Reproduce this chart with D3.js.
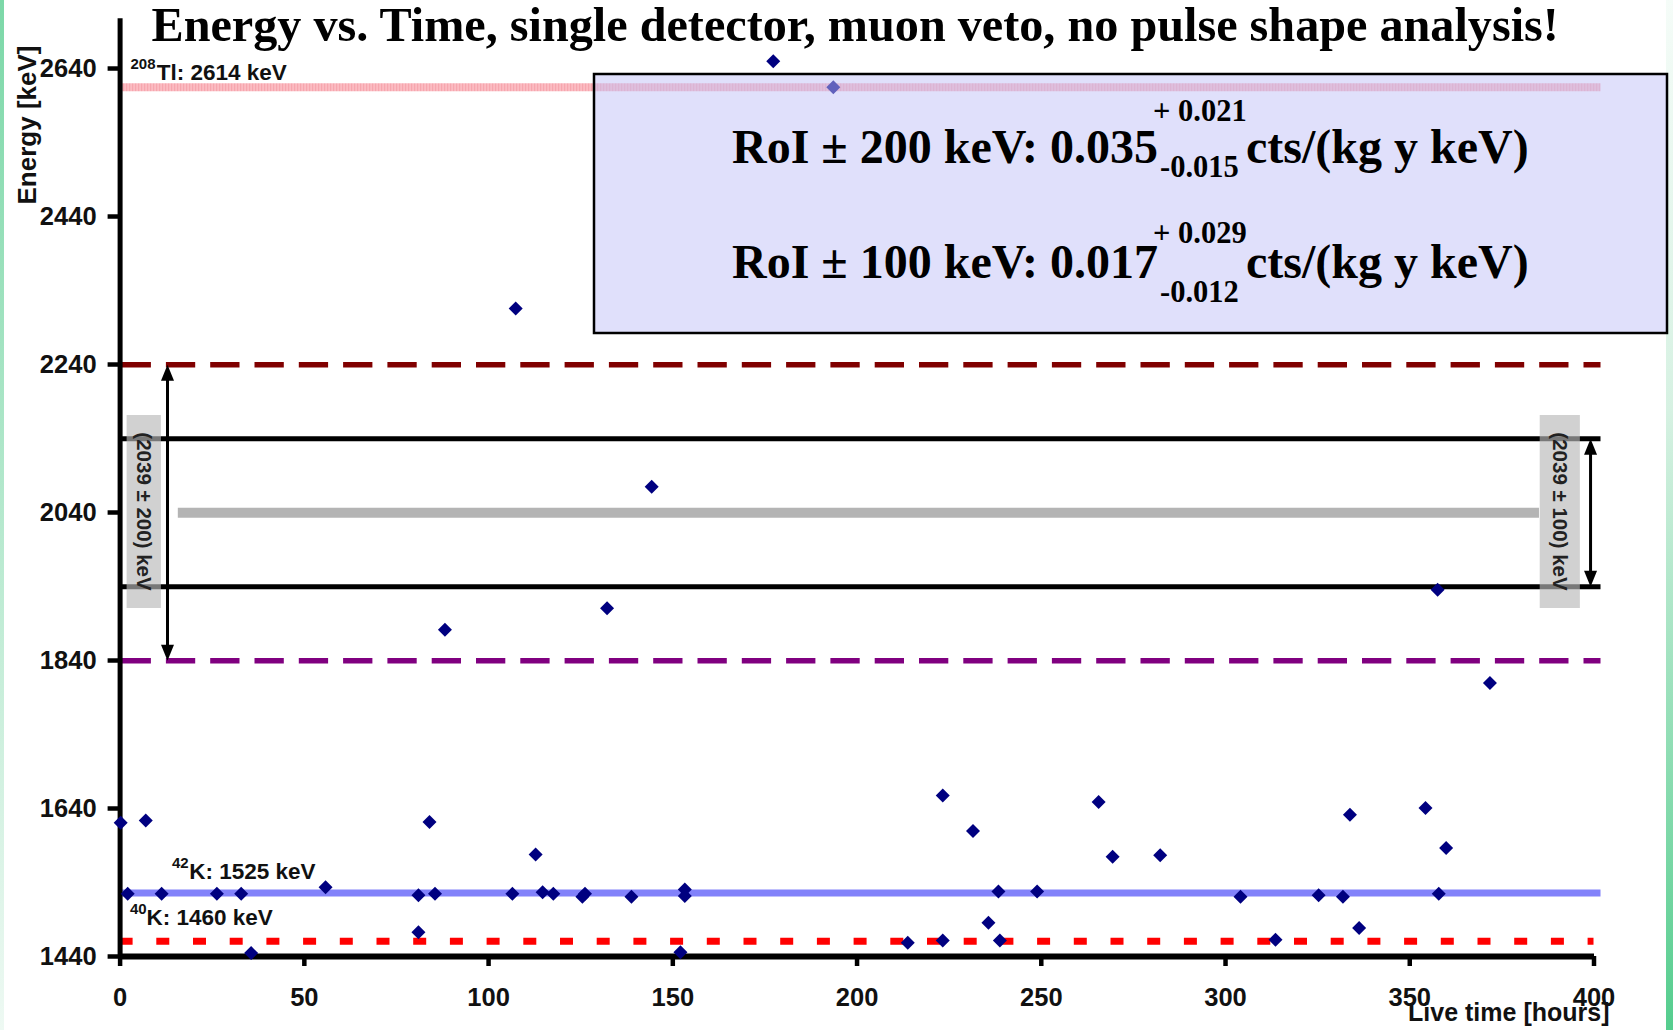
<!DOCTYPE html>
<html><head><meta charset="utf-8">
<script src="https://cdn.jsdelivr.net/npm/d3@7"></script>
<style>
html,body{margin:0;padding:0;background:#fff;}
svg{display:block;}
</style></head>
<body><svg id="c" width="1673" height="1030"></svg>
<script>
// ---------------- data ----------------
const liveTime = [0.3, 2.2, 7.1, 11.4, 26.4, 33.0, 35.7, 55.9, 81.1, 81.1, 84.1, 85.6, 88.3, 106.6, 107.5,
  112.9, 114.8, 117.7, 125.6, 126.3, 132.3, 138.9, 144.4, 152.2, 153.4, 153.4, 177.4, 193.7, 213.9,
  223.4, 223.4, 231.6, 235.8, 238.5, 238.9, 249.0, 265.7, 269.5, 282.4, 304.2, 313.7, 325.4, 332.0,
  333.9, 336.4, 354.4, 357.7, 358.0, 360.0, 371.9];
const energy = [1620, 1524, 1623, 1524, 1524, 1524, 1444, 1533, 1472, 1522, 1621, 1524, 1881, 1524, 2315,
  1577, 1526, 1524, 1520, 1524, 1910, 1520, 2074, 1445, 1530, 1521, 2649, 2614, 1458,
  1657, 1461, 1609, 1485, 1527, 1461, 1527, 1648, 1574, 1576, 1520, 1462, 1522, 1520,
  1631, 1478, 1640, 1935, 1524, 1586, 1809];
const yTicks = [1440, 1640, 1840, 2040, 2240, 2440, 2640];
const xTicks = [0, 50, 100, 150, 200, 250, 300, 350, 400];
const lineTl208 = 2614, lineK42 = 1525, lineK40 = 1460;
const qbb = 2039, roiWide = 200, roiNarrow = 100;
const titleText = "Energy vs. Time, single detector, muon veto, no pulse shape analysis!";
const yTitle = "Energy [keV]", xTitle = "Live time [hours]";
const roiMain = ["RoI ± 200 keV: 0.035", "RoI ± 100 keV: 0.017"];
const roiPlus = ["+ 0.021", "+ 0.029"];
const roiMinus = ["-0.015", "-0.012"];
const roiUnit = "cts/(kg y keV)";
const wideLabel = "(2039 ± 200) keV", narrowLabel = "(2039 ± 100) keV";

// ---------------- scales ----------------
const x = d3.scaleLinear().domain([0, 400]).range([119.6, 1593.5]);
const y = d3.scaleLinear().domain([1440, 2708]).range([956, 17.7]);
const xEnd = x(400) + 7;

const svg = d3.select("#c");
const SANS = "'Liberation Sans', Arial, sans-serif";
const SERIF = "'Liberation Serif', 'Times New Roman', serif";
const defs = svg.append("defs");

// slide edge strips
const gl = defs.append("linearGradient").attr("id","gl").attr("x1",0).attr("y1",0).attr("x2",0).attr("y2",1);
gl.append("stop").attr("offset","0").attr("stop-color","#7cd8a8");
gl.append("stop").attr("offset","1").attr("stop-color","#eef9f3");
const gr = defs.append("linearGradient").attr("id","gr").attr("x1",0).attr("y1",0).attr("x2",0).attr("y2",1);
gr.append("stop").attr("offset","0").attr("stop-color","#f5fcf8");
gr.append("stop").attr("offset","0.4").attr("stop-color","#d6f1e2");
gr.append("stop").attr("offset","1").attr("stop-color","#55cd8e");
svg.append("rect").attr("x",0).attr("y",0).attr("width",4).attr("height",1030).attr("fill","url(#gl)");
svg.append("rect").attr("x",1666).attr("y",0).attr("width",7).attr("height",1030).attr("fill","url(#gr)");

// hatch for the Tl line
const pat = defs.append("pattern").attr("id","hatch").attr("patternUnits","userSpaceOnUse")
  .attr("width",3).attr("height",8);
pat.append("rect").attr("width",3).attr("height",8).attr("fill","#fbbcc2");
pat.append("rect").attr("width",1.2).attr("height",8).attr("fill","#f6a6ae");

// ---------------- reference lines ----------------
const L = svg.append("g");
function hline(E, color, w, dash, x0, x1) {
  L.append("line").attr("x1", x0).attr("x2", x1).attr("y1", y(E)).attr("y2", y(E))
    .attr("stroke", color).attr("stroke-width", w).attr("stroke-dasharray", dash || null);
}
L.append("rect").attr("x", x(0)).attr("y", y(lineTl208) - 4).attr("width", xEnd - x(0)).attr("height", 8)
  .attr("fill", "url(#hatch)");
hline(qbb + roiWide, "#800000", 5.5, "29.3 15", x(0) + 2, xEnd);
hline(qbb - roiWide, "#800080", 5.5, "29.3 15", x(0) + 2, xEnd);
hline(qbb + roiNarrow, "#000", 5, null, x(0), xEnd);
hline(qbb - roiNarrow, "#000", 5, null, x(0), xEnd);
hline(qbb, "#b4b4b4", 10, null, x(15.8), x(385.2));
hline(lineK42, "#8282fa", 7, null, x(0), xEnd);
hline(lineK40, "#ff0000", 7, "13 23.7", x(0), x(400));

// ---------------- axes ----------------
const yAx = svg.append("g").attr("transform", `translate(${x(0)},0)`)
  .call(d3.axisLeft(y).tickValues(yTicks).tickSize(12).tickPadding(11).tickSizeOuter(0).tickFormat(d3.format("d")));
const xAx = svg.append("g").attr("transform", `translate(0,${y(1440)})`)
  .call(d3.axisBottom(x).tickValues(xTicks).tickSize(10).tickPadding(22).tickSizeOuter(0));
yAx.select(".domain").attr("stroke", "#000").attr("stroke-width", 5);
xAx.select(".domain").attr("stroke", "#000").attr("stroke-width", 6);
[yAx, xAx].forEach(a => {
  a.selectAll(".tick line").attr("stroke", "#000").attr("stroke-width", 4.5);
  a.selectAll(".tick text").attr("font-family", SANS).attr("font-size", 25.5)
    .attr("font-weight", "bold").attr("fill", "#111");
});

// axis titles
svg.append("text").attr("transform", `translate(27,125) rotate(-90)`).attr("text-anchor", "middle")
  .attr("dy", "0.35em").attr("font-family", SANS).attr("font-size", 26).attr("font-weight", "bold")
  .attr("fill", "#111").text(yTitle);
svg.append("text").attr("x", 1609.5).attr("y", 1021).attr("text-anchor", "end")
  .attr("font-family", SANS).attr("font-size", 25).attr("font-weight", "bold").attr("fill", "#111").text(xTitle);

// line labels
function isoLabel(sup, main, xs, xm, base) {
  const t = svg.append("text").attr("font-family", SANS).attr("font-weight", "bold").attr("fill", "#111");
  t.append("tspan").attr("x", xs).attr("y", base - 11).attr("font-size", 15).text(sup);
  t.append("tspan").attr("x", xm).attr("y", base).attr("font-size", 22.5).text(main);
}
isoLabel("208", "Tl: 2614 keV", 130.5, 156.7, y(lineTl208) - 7);
isoLabel("42", "K: 1525 keV", 172, 189.3, y(lineK42) - 14);
isoLabel("40", "K: 1460 keV", 130, 146.4, y(lineK40) - 16);

// ---------------- data points ----------------
const pts = liveTime.map((t, i) => [t, energy[i]]);
svg.append("g").selectAll("path").data(pts).join("path")
  .attr("d", d3.symbol(d3.symbolSquare, 98))
  .attr("transform", d => `translate(${x(d[0])},${y(d[1])}) rotate(45)`)
  .attr("fill", "#000080");

// ---------------- ROI annotations ----------------
function arrow(xp, e1, e2) {
  const y1 = y(e1), y2 = y(e2);
  svg.append("line").attr("x1", xp).attr("x2", xp).attr("y1", y1 + 10).attr("y2", y2 - 10)
    .attr("stroke", "#000").attr("stroke-width", 3);
  svg.append("path").attr("d", `M${xp},${y1}L${xp - 6.5},${y1 + 16}L${xp + 6.5},${y1 + 16}Z`).attr("fill", "#000");
  svg.append("path").attr("d", `M${xp},${y2}L${xp - 6.5},${y2 - 16}L${xp + 6.5},${y2 - 16}Z`).attr("fill", "#000");
}
arrow(x(13.0), qbb + roiWide, qbb - roiWide);
arrow(x(399.2), qbb + roiNarrow, qbb - roiNarrow);

function sideLabel(t0, t1, txt) {
  const x0 = x(t0), x1 = x(t1), y0 = 415, y1 = 608;
  svg.append("rect").attr("x", x0).attr("y", y0).attr("width", x1 - x0).attr("height", y1 - y0)
    .attr("fill", "#b8b8b8").attr("opacity", 0.65);
  svg.append("text").attr("transform", `translate(${(x0 + x1) / 2},${(y0 + y1) / 2}) rotate(90)`)
    .attr("text-anchor", "middle").attr("dy", "0.35em").attr("font-family", SANS)
    .attr("font-size", 20.5).attr("font-weight", "bold").attr("fill", "#222").text(txt);
}
sideLabel(1.9, 11.2, wideLabel);
sideLabel(385.4, 396.3, narrowLabel);

// ---------------- result box ----------------
svg.append("rect").attr("x", 594).attr("y", 74).attr("width", 1073).attr("height", 259)
  .attr("fill", "rgb(193,193,247)").attr("fill-opacity", 0.5).attr("stroke", "#000").attr("stroke-width", 2.5);
const supOff = [-42.6, -35], subOff = [13.4, 23.4];
roiMain.forEach((m, i) => {
  const base = 163.3 + i * 115;
  const t = svg.append("text").attr("font-family", SERIF).attr("font-weight", "bold").attr("fill", "#000");
  t.append("tspan").attr("x", 732).attr("y", base).attr("font-size", 48).text(m);
  t.append("tspan").attr("x", 1153).attr("y", base + supOff[i]).attr("font-size", 30.5).text(roiPlus[i]);
  t.append("tspan").attr("x", 1160).attr("y", base + subOff[i]).attr("font-size", 30.5).text(roiMinus[i]);
  t.append("tspan").attr("x", 1246).attr("y", base).attr("font-size", 48).text(roiUnit);
});

// ---------------- title ----------------
svg.append("text").attr("x", 151.5).attr("y", 41).attr("font-family", SERIF).attr("font-weight", "bold")
  .attr("font-size", 48.2).attr("fill", "#000").text(titleText);
</script>
</body></html>
